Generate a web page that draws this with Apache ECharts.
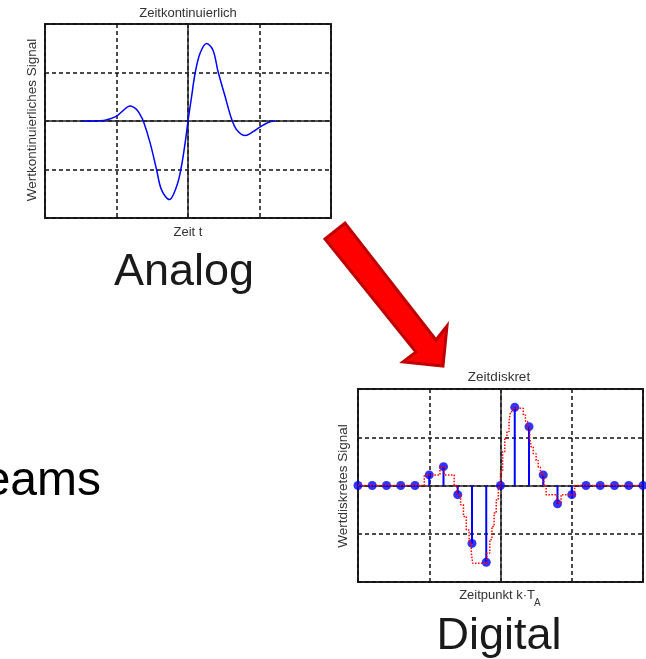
<!DOCTYPE html>
<html>
<head>
<meta charset="utf-8">
<script src="https://cdn.jsdelivr.net/npm/echarts@6/dist/echarts.min.js"></script>
<style>
html,body{margin:0;padding:0;background:#fff;}
#c{width:646px;height:659px;}
</style>
</head>
<body>
<div id="c"></div>
<script>
// Analog signal (time t, value)
const analogT = [-1.48,-1.30,-1.18,-1.10,-1.00,-0.92,-0.81,-0.72,-0.67,-0.625,-0.53,-0.44,-0.37,-0.26,-0.16,-0.10,-0.04,0.00,0.05,0.10,0.17,0.26,0.35,0.42,0.52,0.61,0.68,0.80,0.91,1.00,1.12,1.22];
const analogV = [0,0,0.01,0.04,0.10,0.20,0.31,0.24,0.13,0,-0.45,-1.00,-1.42,-1.62,-1.35,-1.00,-0.45,0,0.50,0.99,1.40,1.60,1.46,1.02,0.50,0.04,-0.18,-0.30,-0.22,-0.13,-0.03,0];

// Discrete samples k*T_A
const sampleT = [-2.0,-1.8,-1.6,-1.4,-1.2,-1.0,-0.8,-0.6,-0.4,-0.2,0.0,0.2,0.4,0.6,0.8,1.0,1.2,1.4,1.6,1.8,2.0];
const sampleV = [0,0,0,0,0,0.22,0.39,-0.19,-1.20,-1.59,0,1.62,1.22,0.22,-0.38,-0.19,0,0,0,0,0];

// Red dotted staircase (hold levels: start time, level)
const holdT = [-2.0,-1.07,-0.85,-0.79,-0.65,-0.61,-0.56,-0.52,-0.48,-0.44,-0.41,-0.39,-0.19,-0.15,-0.12,-0.09,-0.06,-0.03,0.00,0.03,0.06,0.09,0.12,0.14,0.17,0.32,0.35,0.38,0.41,0.43,0.46,0.50,0.53,0.56,0.61,0.64,0.79,0.85,1.04,2.0];
const holdV = [0,0.22,0.39,0.22,0,-0.19,-0.40,-0.64,-0.92,-1.19,-1.40,-1.61,-1.40,-1.12,-0.85,-0.57,-0.30,-0.03,0.29,0.70,0.98,1.12,1.33,1.53,1.60,1.46,1.33,1.19,1.00,0.80,0.66,0.52,0.38,0.24,0,-0.19,-0.36,-0.19,0,0];

const zip = (a,b) => a.map((v,i)=>[v,b[i]]);
const FONT = '"Liberation Sans", Arial, sans-serif';

function xAx(gi){
  return {type:'value', gridIndex:gi, min:-2, max:2, interval:1,
    axisLabel:{show:false}, axisTick:{show:false},
    axisLine:{show:true, onZero:true, lineStyle:{color:'#222', width:1.5}},
    splitLine:{show:true, lineStyle:{color:'#111', width:1.5, type:[4,3]}}};
}
function yAx(gi){
  return {type:'value', gridIndex:gi, min:-2, max:2, interval:1,
    axisLabel:{show:false}, axisTick:{show:false},
    axisLine:{show:true, onZero:true, lineStyle:{color:'#222', width:1.5}},
    splitLine:{show:true, lineStyle:{color:'#111', width:1.5, type:[4,3]}}};
}

const chart = echarts.init(document.getElementById('c'), null, {renderer:'canvas'});
chart.setOption({
  backgroundColor:'#fff',
  animation:false,
  grid:[
    {left:45, top:24, width:286, height:194, show:true, borderColor:'#222', borderWidth:2, backgroundColor:'#fff'},
    {left:358, top:389, width:285, height:193, show:true, borderColor:'#222', borderWidth:2, backgroundColor:'#fff'}
  ],
  xAxis:[xAx(0), xAx(1)],
  yAxis:[yAx(0), yAx(1)],
  series:[
    {type:'line', xAxisIndex:0, yAxisIndex:0, data:zip(analogT, analogV), smooth:0.35,
     symbol:'none', lineStyle:{color:'#0000ff', width:1.5}, z:3},
    {type:'custom', xAxisIndex:1, yAxisIndex:1, data:zip(sampleT, sampleV), z:3,
     renderItem:function(params, api){
       const p0 = api.coord([api.value(0), 0]);
       const p1 = api.coord([api.value(0), api.value(1)]);
       return {type:'line', shape:{x1:p0[0], y1:p0[1], x2:p1[0], y2:p1[1]},
         style:{stroke:'#0000ff', lineWidth:2}};
     }},
    {type:'scatter', xAxisIndex:1, yAxisIndex:1, data:zip(sampleT, sampleV), symbolSize:9,
     itemStyle:{color:'#0000ff'}, z:4, clip:false},
    {type:'line', xAxisIndex:1, yAxisIndex:1, data:zip(holdT, holdV), step:'end',
     symbol:'none', lineStyle:{color:'#ff0000', width:1.5, type:[1.5,1.5]}, z:5}
  ],
  graphic:[
    {type:'text', x:188, y:13, style:{text:'Zeitkontinuierlich', font:'13px '+FONT, fill:'#333', align:'center', verticalAlign:'middle'}},
    {type:'text', x:32, y:120, rotation:Math.PI/2, style:{text:'Wertkontinuierliches Signal', font:'13.5px '+FONT, fill:'#333', align:'center', verticalAlign:'middle'}},
    {type:'text', x:188, y:232, style:{text:'Zeit t', font:'13px '+FONT, fill:'#333', align:'center', verticalAlign:'middle'}},
    {type:'text', x:184, y:250, style:{text:'Analog', font:'45px '+FONT, fill:'#1a1a1a', align:'center', verticalAlign:'top'}},
    {type:'text', x:499, y:377, style:{text:'Zeitdiskret', font:'13.5px '+FONT, fill:'#333', align:'center', verticalAlign:'middle'}},
    {type:'text', x:343, y:486, rotation:Math.PI/2, style:{text:'Wertdiskretes Signal', font:'13.5px '+FONT, fill:'#333', align:'center', verticalAlign:'middle'}},
    {type:'text', x:535, y:595, style:{text:'Zeitpunkt k·T', font:'13px '+FONT, fill:'#333', align:'right', verticalAlign:'middle'}},
    {type:'text', x:534, y:603, style:{text:'A', font:'10px '+FONT, fill:'#333', align:'left', verticalAlign:'middle'}},
    {type:'text', x:499, y:614, style:{text:'Digital', font:'45px '+FONT, fill:'#1a1a1a', align:'center', verticalAlign:'top'}},
    {type:'text', x:101, y:458, style:{text:'eams', font:'48px '+FONT, fill:'#000', align:'right', verticalAlign:'top'}},
    {type:'polygon', shape:{points:[[325,239],[345,223],[436,340],[447,326],[443,366],[403,362],[416,352]]},
     style:{fill:'#ff0000', stroke:'#c00000', lineWidth:3, lineJoin:'miter'}, z:10}
  ]
});
</script>
</body>
</html>
